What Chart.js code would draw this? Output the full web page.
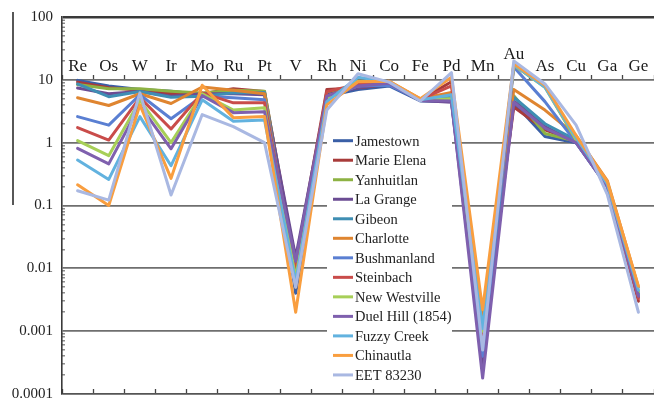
<!DOCTYPE html>
<html>
<head>
<meta charset="utf-8">
<script src="https://cdn.jsdelivr.net/npm/chart.js@4/dist/chart.umd.min.js"></script>
<style>
  html, body { margin: 0; padding: 0; background: #ffffff; }
  canvas { display: block; }
</style>
</head>
<body>
<canvas id="chart" width="654" height="401"></canvas>
<script>
// Element order along the horizontal axis
const elements = ['Re', 'Os', 'W', 'Ir', 'Mo', 'Ru', 'Pt', 'V', 'Rh', 'Ni', 'Co', 'Fe', 'Pd', 'Mn', 'Au', 'As', 'Cu', 'Ga', 'Ge'];

// Decade labels of the logarithmic axis, from 10^-4 up to 10^2
const yTickLabels = ['0.0001', '0.001', '0.01', '0.1', '1', '10', '100'];

// Normalised abundances, one value per element
const jamestown    = [9.8, 8.0, 7.0, 6.6, 5.8, 6.4, 6.2, 0.004, 5.5, 7.0, 8.0, 4.6, 4.5, 0.0005, 4.3, 1.25, 1.0, 0.2, 0.0035];
const marieElena   = [9.2, 7.5, 6.8, 6.0, 6.0, 7.2, 6.5, 0.012, 7.0, 7.5, 8.5, 4.8, 9.3, 0.0007, 3.7, 1.6, 1.05, 0.2, 0.003];
const yanhuitlan   = [8.4, 7.2, 7.2, 6.6, 6.2, 6.8, 6.6, 0.010, 6.0, 8.5, 9.0, 4.9, 5.2, 0.0009, 5.6, 1.4, 1.05, 0.22, 0.004];
const laGrange     = [7.4, 6.0, 6.5, 5.5, 6.0, 6.0, 5.8, 0.015, 5.8, 7.5, 8.8, 4.7, 4.4, 0.0003, 4.6, 1.8, 1.0, 0.21, 0.0035];
const gibeon       = [8.6, 5.4, 6.5, 5.3, 5.5, 6.2, 6.3, 0.006, 5.0, 8.2, 8.5, 4.8, 5.5, 0.0006, 5.3, 2.0, 1.1, 0.22, 0.004];
const charlotte    = [5.2, 3.9, 6.0, 4.2, 7.7, 6.8, 6.0, 0.005, 5.5, 8.0, 9.5, 5.0, 6.3, 0.0015, 7.0, 3.3, 1.3, 0.25, 0.005];
const bushmanland  = [2.6, 1.9, 5.8, 2.4, 5.5, 5.2, 4.8, 0.008, 5.2, 8.0, 8.2, 4.8, 4.8, 0.0004, 16, 4.5, 1.0, 0.2, 0.0038];
const steinbach    = [1.74, 1.1, 5.2, 1.65, 6.2, 4.3, 4.3, 0.009, 6.5, 8.5, 9.0, 4.9, 8.0, 0.0008, 17, 8.0, 1.1, 0.22, 0.0033];
const newWestville = [1.08, 0.62, 4.7, 1.0, 6.0, 3.3, 3.6, 0.007, 5.0, 9.5, 9.2, 4.8, 5.0, 0.001, 17, 7.6, 1.1, 0.23, 0.0042];
const duelHill     = [0.81, 0.46, 3.9, 0.80, 5.6, 3.0, 3.1, 0.013, 5.5, 8.0, 8.8, 4.7, 4.6, 0.00018, 4.4, 1.7, 1.0, 0.2, 0.0036];
const fuzzyCreek   = [0.53, 0.26, 2.6, 0.43, 4.8, 2.2, 2.3, 0.006, 4.5, 11, 9.3, 4.8, 5.8, 0.0011, 17.5, 7.6, 1.2, 0.22, 0.0045];
const chinautla    = [0.213, 0.10, 4.0, 0.27, 8.2, 2.5, 2.6, 0.002, 4.0, 9.3, 9.5, 5.0, 11, 0.0022, 18, 8.2, 1.3, 0.24, 0.0052];
const eet83230     = [0.172, 0.122, 6.2, 0.147, 2.8, 1.8, 1.0, 0.005, 3.3, 12.5, 9.2, 4.6, 13, 0.0005, 20, 8.6, 1.9, 0.15, 0.002];

const seriesNames = ['Jamestown', 'Marie Elena', 'Yanhuitlan', 'La Grange', 'Gibeon', 'Charlotte', 'Bushmanland',
                     'Steinbach', 'New Westville', 'Duel Hill (1854)', 'Fuzzy Creek', 'Chinautla', 'EET 83230'];
const seriesValues = [jamestown, marieElena, yanhuitlan, laGrange, gibeon, charlotte, bushmanland,
                      steinbach, newWestville, duelHill, fuzzyCreek, chinautla, eet83230];
const seriesColors = ['#3a5fa6', '#a83b3a', '#8db243', '#6b4c93', '#3f8eb3', '#df8530', '#5a7fd2',
                      '#c94c4a', '#a7cf58', '#7f60ae', '#62b2df', '#f99e3f', '#a9b8e2'];

const SERIF = '"Liberation Serif", "Times New Roman", serif';

function isDecade(v) {
  if (!(v > 0)) return false;
  const l = Math.log10(v);
  return Math.abs(l - Math.round(l)) < 1e-6;
}
function significand(v) {
  const e = Math.floor(Math.log10(v) + 1e-9);
  return Math.round(v / Math.pow(10, e) * 10) / 10;
}

const datasets = seriesNames.map((name, i) => ({
  label: name,
  data: seriesValues[i],
  borderColor: seriesColors[i],
  backgroundColor: seriesColors[i],
  borderWidth: 3,
  borderJoinStyle: 'round',
  borderCapStyle: 'round',
  pointRadius: 0,
  tension: 0,
  fill: false,
  order: -i   // later series sit on top
}));

// Thin rule at the far left of the figure
const leftRule = {
  id: 'leftRule',
  beforeDraw(chart) {
    const ctx = chart.ctx;
    ctx.save();
    ctx.fillStyle = '#111111';
    ctx.fillRect(12.3, 12, 1.4, 193);
    ctx.restore();
  }
};

// Element names sit just above the 10 line; Au is lifted one step
const elementLabels = {
  id: 'elementLabels',
  afterDatasetsDraw(chart) {
    const ctx = chart.ctx;
    const xs = chart.scales.x;
    const ys = chart.scales.y;
    const base = ys.getPixelForValue(10) - 9;
    ctx.save();
    ctx.font = '17px ' + SERIF;
    ctx.fillStyle = '#1a1a1a';
    ctx.textAlign = 'center';
    ctx.textBaseline = 'alphabetic';
    elements.forEach((el, i) => {
      const x = xs.getPixelForValue(i);
      const y = el === 'Au' ? base - 11.5 : base;
      ctx.fillText(el, x, y);
    });
    ctx.restore();
  }
};

// Legend box floating inside the plot
const floatingLegend = {
  id: 'floatingLegend',
  afterDatasetsDraw(chart) {
    const ctx = chart.ctx;
    const left = 327, top = 128, width = 125, height = 258;
    const rowTop = 140.7, rowStep = 19.52;
    ctx.save();
    ctx.fillStyle = '#ffffff';
    ctx.fillRect(left, top, width, height);
    ctx.font = '14.5px ' + SERIF;
    ctx.textAlign = 'left';
    ctx.textBaseline = 'alphabetic';
    chart.data.datasets.forEach((ds, i) => {
      const y = rowTop + i * rowStep;
      ctx.strokeStyle = ds.borderColor;
      ctx.lineWidth = 3;
      ctx.beginPath();
      ctx.moveTo(333, y);
      ctx.lineTo(353, y);
      ctx.stroke();
      ctx.fillStyle = '#222222';
      ctx.fillText(ds.label, 355, y + 5);
    });
    ctx.restore();
  }
};

const tickAxis = (yValue) => ({
  type: 'category',
  position: { y: yValue },
  offset: true,
  grid: {
    offset: true,
    drawOnChartArea: false,
    drawTicks: true,
    tickLength: -5,
    tickColor: '#444444',
    tickWidth: 1.3,
    color: '#444444'
  },
  border: { display: false },
  ticks: { display: false }
});

new Chart(document.getElementById('chart'), {
  type: 'line',
  data: { labels: elements, datasets },
  options: {
    responsive: false,
    animation: false,
    devicePixelRatio: 1,
    layout: { padding: { left: 0, top: 17, right: 0, bottom: 7 } },
    plugins: {
      legend: { display: false },
      tooltip: { enabled: false }
    },
    scales: {
      x: tickAxis(10),
      x2: tickAxis(0.0001),
      y: {
        type: 'logarithmic',
        min: 0.0001,
        max: 100,
        afterFit(scale) {
          scale.width = 62;
          scale.paddingTop = 0;
          scale.paddingBottom = 0;
        },
        border: { display: true, color: '#3a3a3a', width: 1.6 },
        grid: {
          drawTicks: true,
          tickLength: -3,
          color: (c) => {
            const v = c.tick && c.tick.value;
            if (!isDecade(v)) return 'rgba(0,0,0,0)';
            if (v > 50) return '#3a3a3a';
            if (v < 0.0002) return '#555555';
            return '#6f6f6f';
          },
          lineWidth: (c) => {
            const v = c.tick && c.tick.value;
            return v > 50 ? 2.4 : 1.7;
          },
          tickColor: (c) => {
            const v = c.tick && c.tick.value;
            if (!v || isDecade(v)) return 'rgba(0,0,0,0)';
            return Number.isInteger(significand(v)) ? '#555555' : 'rgba(0,0,0,0)';
          },
          tickWidth: 1
        },
        ticks: {
          autoSkip: false,
          padding: 12,
          color: '#222222',
          font: { family: SERIF, size: 15 },
          callback: (v) => isDecade(v) ? yTickLabels[Math.round(Math.log10(v)) + 4] : ''
        }
      }
    }
  },
  plugins: [leftRule, elementLabels, floatingLegend]
});
</script>
</body>
</html>
